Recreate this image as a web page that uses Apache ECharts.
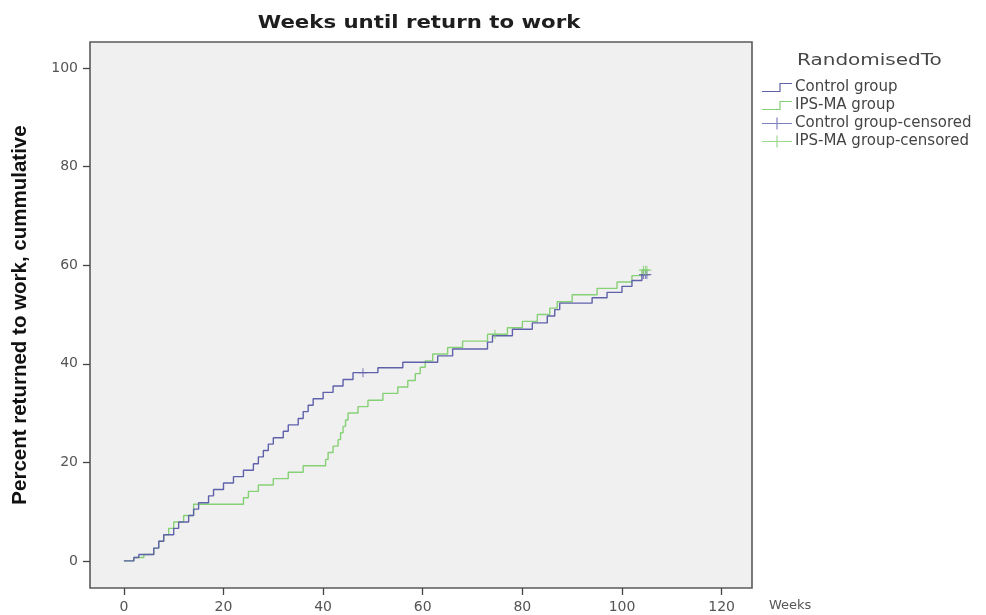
<!DOCTYPE html>
<html>
<head>
<meta charset="utf-8">
<script src="https://cdn.jsdelivr.net/npm/echarts@6/dist/echarts.min.js"></script>
<style>html,body{margin:0;padding:0;background:#fff;}#c{width:986px;height:615px;}</style>
</head>
<body>
<div id="c"></div>
<script>
// ---- data ----
const titleText = 'Weeks until return to work';
const legendTitle = 'RandomisedTo';
const seriesNames = ['Control group', 'IPS-MA group', 'Control group-censored', 'IPS-MA group-censored'];
const xTicks = [0, 20, 40, 60, 80, 100, 120];
const yTicks = [0, 20, 40, 60, 80, 100];

const controlWeeks = [0, 2, 3, 6, 7, 8, 10, 11, 13, 14, 15, 17, 18, 20, 22, 24, 26, 27, 28, 29, 30, 32, 33, 35, 36, 37, 38, 40, 42, 44, 46, 51, 56, 63, 66, 73, 74, 78, 82, 85, 86.5, 87.5, 94, 97, 100, 102, 104, 105];
const controlPct   = [0, 0.7, 1.3, 2.6, 4.0, 5.3, 6.6, 7.9, 9.2, 10.5, 11.8, 13.2, 14.5, 15.8, 17.1, 18.4, 19.7, 21.1, 22.4, 23.7, 25.0, 26.3, 27.6, 28.9, 30.3, 31.6, 32.9, 34.2, 35.5, 36.8, 38.2, 39.2, 40.3, 41.6, 43.0, 44.4, 45.7, 47.0, 48.3, 49.7, 51.0, 52.3, 53.4, 54.5, 55.7, 56.9, 58.1, 58.1];

const ipsWeeks = [0, 2, 4, 6, 7, 8, 9, 10, 12, 14, 24, 25, 27, 30, 33, 36, 40.5, 41, 42, 43, 43.5, 44, 44.5, 45, 47, 49, 52, 55, 57, 58.5, 59.5, 60.5, 62, 65, 68, 73, 77, 80, 83, 85.5, 87, 90, 95, 99, 102, 104, 105];
const ipsPct   = [0, 0.7, 1.3, 2.6, 4.0, 5.3, 6.6, 7.9, 9.2, 11.5, 12.8, 14.1, 15.4, 16.7, 18.0, 19.3, 20.6, 22.0, 23.3, 24.6, 26.0, 27.3, 28.6, 30.0, 31.3, 32.6, 34.0, 35.3, 36.6, 38.0, 39.3, 40.6, 42.0, 43.3, 44.6, 46.0, 47.3, 48.6, 50.0, 51.3, 52.6, 54.0, 55.3, 56.6, 57.9, 59.0, 59.0];

const controlCensWeeks = [48, 104.3, 104.7, 105];
const controlCensPct   = [38.2, 58.1, 58.1, 58.1];
const ipsCensWeeks = [74.5, 104.3, 104.7, 105];
const ipsCensPct   = [46.0, 59.0, 59.0, 59.0];

// ---- styles ----
const cBlue = '#5f61aa';
const cGreen = '#86d075';
const stepIcon = 'path://M0,9.4 L17.4,9.4 L17.4,1.4 L30,1.4 L30,2.6 L18.6,2.6 L18.6,10.6 L0,10.6 Z';
const censIcon = 'path://M0,5.4 L14.4,5.4 L14.4,0 L15.6,0 L15.6,5.4 L30,5.4 L30,6.6 L15.6,6.6 L15.6,12 L14.4,12 L14.4,6.6 L0,6.6 Z';
const plusSym = 'path://M4.4,0 H5.6 V4.4 H10 V5.6 H5.6 V10 H4.4 V5.6 H0 V4.4 H4.4 Z';

const zip = (a, b) => a.map((v, i) => [v, b[i]]);

const chart = echarts.init(document.getElementById('c'), null, {renderer: 'canvas'});
chart.setOption({
  animation: false,
  backgroundColor: '#ffffff',
  graphic: [
    {
      type: 'text', x: 419, y: 23, scaleX: 1.15,
      style: {text: titleText, font: 'bold 18.5px "DejaVu Sans"', fill: '#1e1e1e', align: 'center', verticalAlign: 'middle'}
    },
    {
      type: 'text', x: 797, y: 61, scaleX: 1.25,
      style: {text: legendTitle, font: '16px "DejaVu Sans"', fill: '#474747', align: 'left', verticalAlign: 'middle'}
    }
  ],
  legend: {
    orient: 'vertical', left: 757, top: 74,
    itemWidth: 30, itemHeight: 12, itemGap: 1,
    textStyle: {fontFamily: 'DejaVu Sans', fontSize: 15, lineHeight: 17, color: '#444', padding: [0, 0, 0, -2]},
    data: [
      {name: seriesNames[0], icon: stepIcon},
      {name: seriesNames[1], icon: stepIcon},
      {name: seriesNames[2], icon: censIcon},
      {name: seriesNames[3], icon: censIcon}
    ]
  },
  grid: {
    left: 90, right: 234, top: 42, bottom: 27,
    show: true, backgroundColor: '#f0f0f0', borderColor: '#5a5a5a', borderWidth: 1.6,
    outerBoundsMode: 'none'
  },
  xAxis: {
    type: 'value', min: -6.8, max: 126.1,
    axisLine: {show: false, onZero: false},
    splitLine: {show: false},
    axisTick: {show: true, customValues: xTicks, length: 7, lineStyle: {color: '#444', width: 1.3}},
    axisLabel: {customValues: xTicks, margin: 12, fontFamily: 'DejaVu Sans', fontSize: 14, color: '#555'},
    name: 'Weeks', nameLocation: 'end', nameGap: 17,
    nameTextStyle: {fontFamily: 'DejaVu Sans', fontSize: 13, color: '#555', verticalAlign: 'top', align: 'left', padding: [11, 0, 0, 0]}
  },
  yAxis: {
    type: 'value', min: -5.5, max: 105.3,
    axisLine: {show: false, onZero: false},
    splitLine: {show: false},
    axisTick: {show: true, customValues: yTicks, length: 7, lineStyle: {color: '#444', width: 1.3}},
    axisLabel: {customValues: yTicks, margin: 12, fontFamily: 'DejaVu Sans', fontSize: 14, color: '#555'},
    name: 'Percent returned to work, cummulative', nameLocation: 'middle', nameRotate: 90, nameGap: 59,
    nameTextStyle: {fontFamily: 'Liberation Sans', fontWeight: 'bold', fontSize: 20.5, color: '#111'}
  },
  series: [
    {name: seriesNames[0], type: 'line', step: 'end', data: zip(controlWeeks, controlPct), showSymbol: false, color: cBlue, lineStyle: {width: 1.4, color: cBlue}, z: 3},
    {name: seriesNames[1], type: 'line', step: 'end', data: zip(ipsWeeks, ipsPct), showSymbol: false, color: cGreen, lineStyle: {width: 1.4, color: cGreen}, z: 2},
    {name: seriesNames[2], type: 'scatter', data: zip(controlCensWeeks, controlCensPct), symbol: plusSym, symbolSize: 9, color: cBlue, z: 4},
    {name: seriesNames[3], type: 'scatter', data: zip(ipsCensWeeks, ipsCensPct), symbol: plusSym, symbolSize: 9, color: cGreen, z: 4}
  ]
});
</script>
</body>
</html>
